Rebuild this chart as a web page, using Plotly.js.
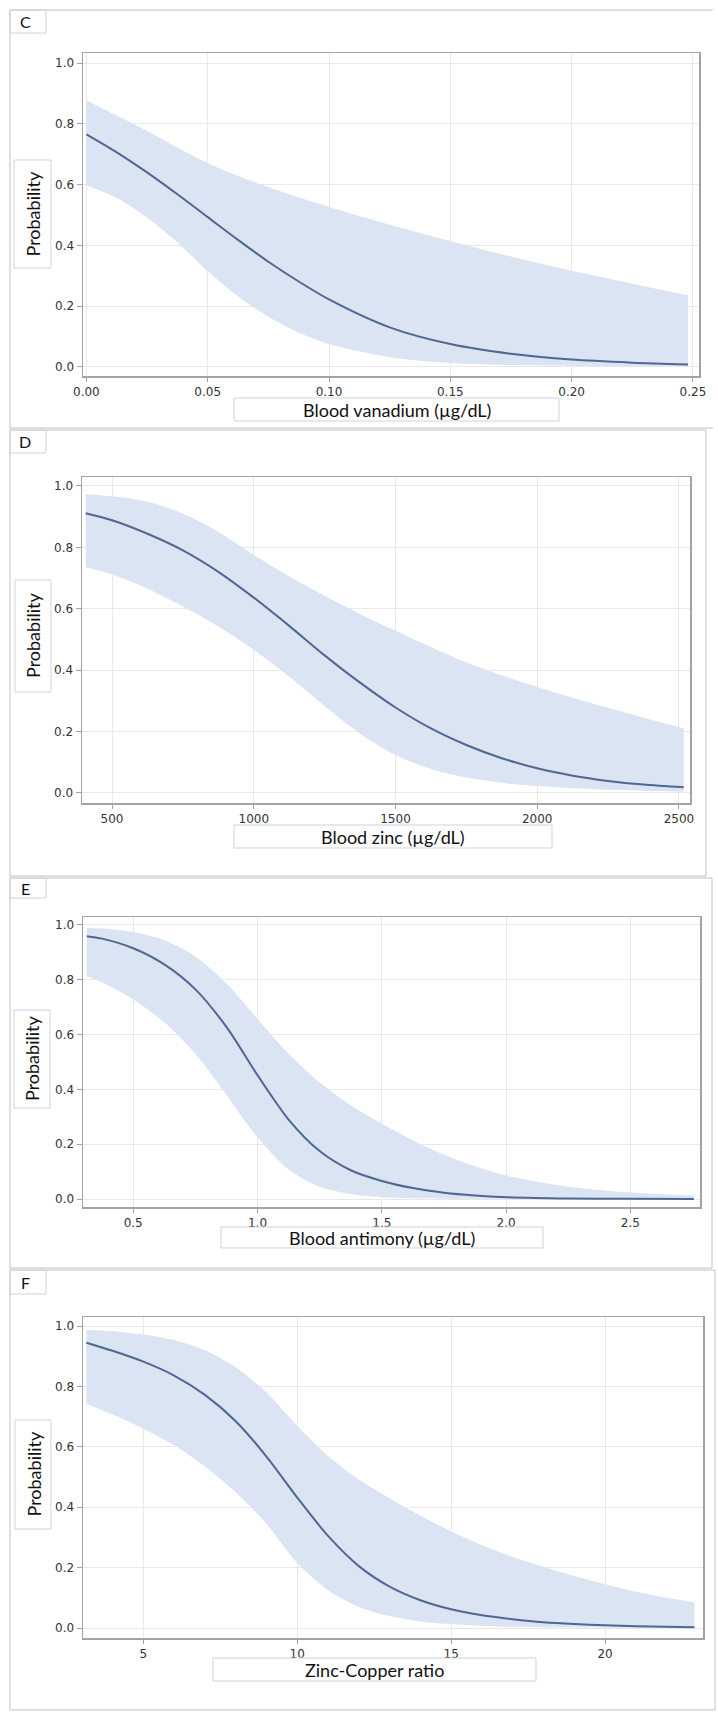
<!DOCTYPE html>
<html><head><meta charset="utf-8">
<script src="https://cdn.plot.ly/plotly-3.0.1.min.js"></script>
<style>html,body{margin:0;padding:0;background:#fff}#chart{width:718px;height:1722px}</style>
</head><body><div id="chart"></div>
<script>
// ---- Panel C: Blood vanadium ----
const vanadiumX     = [0, 0.0125, 0.025, 0.0375, 0.05, 0.0625, 0.075, 0.0875, 0.10, 0.125, 0.15, 0.175, 0.20, 0.225, 0.248];
const vanadiumMean  = [0.765, 0.706, 0.64, 0.568, 0.493, 0.418, 0.346, 0.281, 0.222, 0.13, 0.075, 0.043, 0.024, 0.014, 0.008];
const vanadiumUpper = [0.877, 0.827, 0.776, 0.722, 0.671, 0.628, 0.592, 0.558, 0.526, 0.468, 0.414, 0.363, 0.316, 0.274, 0.236];
const vanadiumLower = [0.598, 0.556, 0.492, 0.41, 0.315, 0.232, 0.165, 0.113, 0.075, 0.032, 0.013, 0.006, 0.003, 0.002, 0.001];
const vanadiumTicks = [0, 0.05, 0.10, 0.15, 0.20, 0.25];

// ---- Panel D: Blood zinc ----
const zincX     = [407, 500, 625, 750, 875, 1000, 1125, 1250, 1375, 1500, 1625, 1750, 1875, 2000, 2125, 2250, 2375, 2517];
const zincMean  = [0.911, 0.888, 0.844, 0.79, 0.72, 0.636, 0.544, 0.448, 0.359, 0.278, 0.21, 0.156, 0.113, 0.08, 0.056, 0.039, 0.027, 0.018];
const zincUpper = [0.973, 0.966, 0.948, 0.91, 0.85, 0.775, 0.705, 0.642, 0.583, 0.528, 0.475, 0.425, 0.383, 0.345, 0.31, 0.277, 0.245, 0.21];
const zincLower = [0.735, 0.712, 0.665, 0.607, 0.542, 0.466, 0.378, 0.283, 0.193, 0.123, 0.078, 0.05, 0.033, 0.022, 0.015, 0.01, 0.007, 0.004];
const zincTicks = [500, 1000, 1500, 2000, 2500];

// ---- Panel E: Blood antimony ----
const antimonyX     = [0.313, 0.375, 0.5, 0.625, 0.75, 0.875, 1.0, 1.125, 1.25, 1.375, 1.5, 1.625, 1.75, 1.875, 2.0, 2.25, 2.5, 2.755];
const antimonyMean  = [0.959, 0.95, 0.915, 0.856, 0.765, 0.628, 0.452, 0.29, 0.175, 0.105, 0.066, 0.04, 0.023, 0.013, 0.007, 0.002, 0.0007, 0.0002];
const antimonyUpper = [0.99, 0.987, 0.974, 0.944, 0.885, 0.786, 0.657, 0.53, 0.425, 0.342, 0.275, 0.214, 0.162, 0.12, 0.086, 0.045, 0.024, 0.013];
const antimonyLower = [0.813, 0.79, 0.728, 0.645, 0.53, 0.38, 0.225, 0.108, 0.045, 0.018, 0.007, 0.003, 0.0015, 0.0008, 0.0005, 0.0002, 0.0001, 0];
const antimonyTicks = [0.5, 1.0, 1.5, 2.0, 2.5];

// ---- Panel F: Zinc-Copper ratio ----
const ratioX     = [3.15, 4, 5, 6, 7, 8, 9, 10, 11, 12, 13, 14, 15, 16, 17, 18, 19, 20, 21, 22, 22.9];
const ratioMean  = [0.945, 0.918, 0.882, 0.836, 0.772, 0.685, 0.568, 0.432, 0.305, 0.205, 0.137, 0.092, 0.062, 0.042, 0.029, 0.019, 0.013, 0.009, 0.006, 0.004, 0.003];
const ratioUpper = [0.988, 0.983, 0.972, 0.954, 0.92, 0.864, 0.78, 0.67, 0.57, 0.492, 0.43, 0.372, 0.32, 0.275, 0.235, 0.203, 0.172, 0.145, 0.12, 0.1, 0.085];
const ratioLower = [0.743, 0.707, 0.66, 0.605, 0.535, 0.45, 0.345, 0.215, 0.125, 0.07, 0.04, 0.022, 0.013, 0.007, 0.004, 0.002, 0.0015, 0.001, 0.0007, 0.0005, 0.0003];
const ratioTicks = [5, 10, 15, 20];

const probTicks = [0, 0.2, 0.4, 0.6, 0.8, 1.0];
const panelLabels = ['C', 'D', 'E', 'F'];
const xTitles = ['Blood vanadium (µg/dL)', 'Blood zinc (µg/dL)', 'Blood antimony (µg/dL)', 'Zinc-Copper ratio'];
const yTitle = 'Probability';

const W = 718, H = 1722;
const px = x => x / W, py = y => 1 - y / H;

const panels = [
  {label: panelLabels[0], xTitle: xTitles[0], x: vanadiumX, mean: vanadiumMean, up: vanadiumUpper, lo: vanadiumLower,
   ticks: vanadiumTicks, fmt: '.2f', xr: [-0.0014, 0.2525], yr: [-0.030, 1.033],
   plot: [83, 699, 53, 376], frame: [10, 713, 10, 428], sides: {right: false},
   lab: [10, 46, 10, 33], yBox: [14, 51, 160, 268], xBox: [234, 559, 398, 421]},
  {label: panelLabels[1], xTitle: xTitles[1], x: zincX, mean: zincMean, up: zincUpper, lo: zincLower,
   ticks: zincTicks, fmt: 'd', xr: [394, 2539], yr: [-0.033, 1.029],
   plot: [82, 690, 477, 803], frame: [10, 706, 430, 876], sides: {},
   lab: [10, 46, 430, 453], yBox: [15, 51, 580, 692], xBox: [234, 552, 825, 848]},
  {label: panelLabels[2], xTitle: xTitles[2], x: antimonyX, mean: antimonyMean, up: antimonyUpper, lo: antimonyLower,
   ticks: antimonyTicks, fmt: '.1f', xr: [0.298, 2.78], yr: [-0.029, 1.029],
   plot: [83, 700, 917, 1207], frame: [10, 712, 878, 1268], sides: {},
   lab: [10, 46, 878, 898], yBox: [14, 50, 1010, 1108], xBox: [221, 543, 1227, 1248]},
  {label: panelLabels[3], xTitle: xTitles[3], x: ratioX, mean: ratioMean, up: ratioUpper, lo: ratioLower,
   ticks: ratioTicks, fmt: 'd', xr: [3.04, 23.18], yr: [-0.033, 1.030],
   plot: [83, 703, 1317, 1638], frame: [10, 715, 1270, 1710], sides: {},
   lab: [10, 46, 1270, 1294], yBox: [15, 51, 1420, 1529], xBox: [213, 536, 1658, 1681]}
];

const lineColor = '#4e6793', bandColor = '#dbe4f2';
const boxColor = '#c9d4ea', frameColor = '#d6d6d6';
const tickFont = {family: 'DejaVu Sans, sans-serif', size: 12, color: '#333'};
const titleFont = {family: 'Lato, Open Sans, sans-serif', size: 18, color: '#111'};

const data = [], shapes = [], annotations = [];
const layout = {width: W, height: H, margin: {l: 0, r: 0, t: 0, b: 0}, showlegend: false,
  paper_bgcolor: '#fff', plot_bgcolor: '#fff', shapes, annotations};

panels.forEach((p, i) => {
  const n = i === 0 ? '' : String(i + 1);
  const xa = 'x' + n, ya = 'y' + n;
  layout['xaxis' + n] = {domain: [px(p.plot[0]), px(p.plot[1])], anchor: ya, range: p.xr,
    tickvals: p.ticks, tickformat: p.fmt, showgrid: true, gridcolor: '#e8e8e8', gridwidth: 1,
    zeroline: false, showline: true, mirror: true, linecolor: '#a3a3a3', linewidth: 1.5,
    ticks: 'outside', ticklen: 4, tickcolor: '#a3a3a3', tickfont: tickFont, fixedrange: true};
  layout['yaxis' + n] = {domain: [py(p.plot[3]), py(p.plot[2])], anchor: xa, range: p.yr,
    tickvals: probTicks, tickformat: '.1f', showgrid: true, gridcolor: '#e8e8e8', gridwidth: 1,
    zeroline: false, showline: true, mirror: true, linecolor: '#a3a3a3', linewidth: 1.5,
    ticks: 'outside', ticklen: 5, tickcolor: '#a3a3a3', tickfont: tickFont, fixedrange: true};
  data.push({x: p.x, y: p.lo, xaxis: xa, yaxis: ya, mode: 'lines', line: {width: 0, shape: 'spline', smoothing: 0.8, color: bandColor}, hoverinfo: 'skip'});
  data.push({x: p.x, y: p.up, xaxis: xa, yaxis: ya, mode: 'lines', fill: 'tonexty', fillcolor: bandColor, line: {width: 0, shape: 'spline', smoothing: 0.8, color: bandColor}, hoverinfo: 'skip'});
  data.push({x: p.x, y: p.mean, xaxis: xa, yaxis: ya, mode: 'lines', line: {width: 2, shape: 'spline', smoothing: 0.8, color: lineColor}});

  // panel frame
  const [fl, fr, ft, fb] = p.frame;
  const seg = (x0, y0, x1, y1) => shapes.push({type: 'line', xref: 'paper', yref: 'paper', x0: px(x0), y0: py(y0), x1: px(x1), y1: py(y1), line: {color: frameColor, width: 1.5}});
  seg(fl, ft, fr, ft); seg(fl, ft, fl, fb); seg(fl, fb, fr, fb);
  if (p.sides.right !== false) seg(fr, ft, fr, fb);

  const box = (b) => shapes.push({type: 'rect', xref: 'paper', yref: 'paper', x0: px(b[0]), x1: px(b[1]), y0: py(b[3]), y1: py(b[2]), line: {color: boxColor, width: 1}, fillcolor: 'rgba(0,0,0,0)'});
  box(p.lab); box(p.yBox); box(p.xBox);

  annotations.push({xref: 'paper', yref: 'paper', x: px((p.lab[0] + p.lab[1]) / 2 - 3), y: py((p.lab[2] + p.lab[3]) / 2),
    text: p.label, showarrow: false, xanchor: 'center', yanchor: 'middle', font: {family: 'Lato, sans-serif', size: 16, color: '#111'}});
  annotations.push({xref: 'paper', yref: 'paper', x: px((p.yBox[0] + p.yBox[1]) / 2), y: py((p.yBox[2] + p.yBox[3]) / 2),
    text: yTitle, textangle: -90, showarrow: false, xanchor: 'center', yanchor: 'middle', font: titleFont});
  annotations.push({xref: 'paper', yref: 'paper', x: px((p.xBox[0] + p.xBox[1]) / 2), y: py((p.xBox[2] + p.xBox[3]) / 2),
    text: p.xTitle, showarrow: false, xanchor: 'center', yanchor: 'middle', borderpad: 0, font: titleFont});
});

Plotly.newPlot('chart', data, layout, {displayModeBar: false, staticPlot: true});
</script>
</body></html>
